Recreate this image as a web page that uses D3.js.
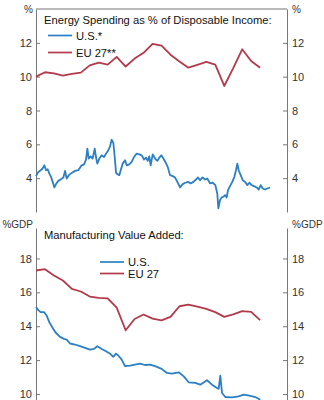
<!DOCTYPE html>
<html>
<head>
<meta charset="utf-8">
<script src="https://cdn.jsdelivr.net/npm/d3@7"></script>
<style>
  body { margin: 0; background: #fff; }
  svg { display: block; font-family: "Liberation Sans", Arial, sans-serif; }
  .axis text { font-size: 11px; fill: #333; }
  .axis path, .axis line { stroke: #777; }
</style>
</head>
<body>
<div id="chart"></div>
<script>
// years of the annual EU series
const euYears = d3.range(2000, 2026);

// energy spending, % of disposable income
const euEnergy = [10.0, 10.26, 10.2, 10.06, 10.16, 10.24, 10.67, 10.83, 10.71, 11.17,
  10.6, 11.07, 11.41, 11.94, 11.84, 11.3, 10.9, 10.53, 10.7, 10.87,
  10.71, 9.45, 10.5, 11.62, 10.93, 10.53];

const usEnergyDates = [2000.0, 2000.26, 2000.52, 2000.74, 2000.93, 2001.12, 2001.3, 2001.49, 2001.67, 2001.86,
  2002.05, 2002.23, 2002.49, 2002.75, 2003.05, 2003.24, 2003.42, 2003.68, 2003.98, 2004.35,
  2004.72, 2005.09, 2005.36, 2005.58, 2005.73, 2005.88, 2006.1, 2006.32, 2006.55, 2006.69,
  2006.84, 2007.07, 2007.33, 2007.59, 2007.81, 2008.07, 2008.26, 2008.44, 2008.63, 2008.78,
  2008.93, 2009.07, 2009.3, 2009.45, 2009.67, 2009.93, 2010.12, 2010.41, 2010.67, 2010.93,
  2011.23, 2011.53, 2011.79, 2012.05, 2012.27, 2012.46, 2012.64, 2012.79, 2013.02, 2013.28,
  2013.54, 2013.76, 2013.98, 2014.21, 2014.43, 2014.69, 2014.95, 2015.25, 2015.51, 2015.77,
  2016.07, 2016.36, 2016.66, 2016.96, 2017.26, 2017.55, 2017.85, 2018.07, 2018.3, 2018.59,
  2018.85, 2019.11, 2019.41, 2019.71, 2020.01, 2020.23, 2020.34, 2020.53, 2020.71, 2020.9,
  2021.09, 2021.27, 2021.42, 2021.64, 2021.9, 2022.13, 2022.31, 2022.46, 2022.61, 2022.83,
  2023.06, 2023.32, 2023.58, 2023.8, 2024.06, 2024.32, 2024.62, 2024.84, 2025.07, 2025.29,
  2025.55, 2025.81, 2026.11];
const usEnergy = [4.12, 4.37, 4.47, 4.57, 4.76, 4.47, 4.53, 4.27, 4.08, 3.78,
  3.45, 3.65, 3.84, 3.92, 4.04, 4.43, 3.98, 4.18, 4.31, 4.43,
  4.47, 4.76, 4.82, 5.1, 5.75, 5.16, 5.29, 5.16, 5.75, 5.25,
  4.86, 5.16, 5.35, 5.25, 5.45, 5.65, 5.88, 6.27, 6.08, 5.25,
  4.31, 4.24, 4.18, 4.47, 4.86, 5.06, 4.76, 4.82, 4.96, 5.25,
  5.45, 5.41, 5.35, 5.1, 5.22, 5.02, 5.29, 4.76, 5.41, 5.16,
  5.02, 5.22, 5.35, 5.16, 4.96, 4.67, 4.18, 4.12, 4.04, 3.78,
  3.45, 3.65, 3.73, 3.78, 3.69, 3.78, 3.92, 4.04, 3.88, 4.04,
  3.92, 3.98, 3.69, 3.73, 3.59, 3.06, 2.22, 2.71, 2.86, 2.9,
  3.0, 2.86, 3.29, 3.53, 3.78, 4.08, 4.47, 4.86, 4.47, 4.18,
  3.88, 3.78, 3.59, 3.73, 3.59, 3.53, 3.45, 3.33, 3.59, 3.39,
  3.33, 3.39, 3.45];

// manufacturing value added, % of GDP
const euManuf = [17.29, 17.37, 17.0, 16.7, 16.2, 16.05, 15.75, 15.67, 15.65, 15.1,
  13.76, 14.43, 14.69, 14.45, 14.35, 14.55, 15.18, 15.28, 15.16, 15.02,
  14.83, 14.55, 14.7, 14.89, 14.85, 14.36];

const usManufDates = [2000.0, 2000.26, 2000.52, 2000.89, 2001.19, 2001.48, 2001.86, 2002.23, 2002.68, 2003.12,
  2003.42, 2003.79, 2004.35, 2004.91, 2005.47, 2006.02, 2006.47, 2006.84, 2007.33, 2007.81,
  2008.26, 2008.62, 2008.92, 2009.18, 2009.56, 2009.93, 2010.49, 2011.04, 2011.6, 2012.16,
  2012.72, 2013.28, 2014.02, 2014.61, 2015.17, 2015.92, 2016.48, 2017.03, 2017.77, 2018.33,
  2019.08, 2019.63, 2020.19, 2020.38, 2020.56, 2020.75, 2021.12, 2021.87, 2022.61, 2023.17,
  2023.8, 2024.46, 2025.02];
const usManuf = [15.14, 14.95, 14.83, 14.83, 14.63, 14.24, 13.9, 13.6, 13.37, 13.25,
  13.21, 12.98, 12.92, 12.82, 12.72, 12.62, 12.66, 12.82, 12.66, 12.52,
  12.38, 12.19, 12.38, 12.27, 12.03, 11.64, 11.67, 11.73, 11.79, 11.71,
  11.73, 11.64, 11.48, 11.24, 11.2, 11.28, 11.04, 10.69, 10.65, 10.55,
  10.81, 10.55, 10.35, 10.3, 11.08, 10.06, 9.82, 9.8, 9.86, 9.96,
  9.9, 9.82, 9.66];

const topTicks = [4, 6, 8, 10, 12];
const bottomTicks = [10, 12, 14, 16, 18];

const blue = "#2b7fc4";
const red = "#b33a4a";
const gray = "#777";

const width = 324;
const height = 400;
const marginLeft = 36;
const marginRight = 37;

const svg = d3.select("#chart")
  .append("svg")
  .attr("width", width)
  .attr("height", height);

const x = d3.scaleLinear()
  .domain([2000, 2028])
  .range([marginLeft, width - marginRight]);

// panels: yScale, legend layout, series
function drawPanel(p) {
  const g = svg.append("g");

  const yAxisL = d3.axisLeft(p.y).tickValues(p.ticks).tickSizeInner(-4).tickSizeOuter(0).tickPadding(4);
  const yAxisR = d3.axisRight(p.y).tickValues(p.ticks).tickSizeInner(-4).tickSizeOuter(0).tickPadding(5);

  g.append("g").attr("class", "axis")
    .attr("transform", `translate(${x.range()[0]},0)`)
    .call(yAxisL);
  g.append("g").attr("class", "axis")
    .attr("transform", `translate(${x.range()[1]},0)`)
    .call(yAxisR);

  if (p.topBorder) {
    g.append("line")
      .attr("x1", x.range()[0]).attr("x2", x.range()[1])
      .attr("y1", p.y.range()[1]).attr("y2", p.y.range()[1])
      .attr("stroke", gray);
  }

  // unit labels
  g.append("text")
    .attr("x", x.range()[0] - 3).attr("y", p.unitY)
    .attr("text-anchor", "end")
    .attr("font-size", p.unitSize).attr("fill", "#333")
    .text(p.unit);
  g.append("text")
    .attr("x", x.range()[1] + 5).attr("y", p.unitY)
    .attr("font-size", p.unitSize).attr("fill", "#333")
    .text(p.unit);

  const line = d3.line()
    .x((d) => x(d[0]))
    .y((d) => p.y(d[1]));

  p.series.forEach((s) => {
    g.append("path")
      .datum(d3.zip(s.dates, s.values))
      .attr("fill", "none")
      .attr("stroke", s.color)
      .attr("stroke-width", s.width)
      .attr("stroke-linejoin", "round")
      .attr("d", line);
  });

  g.append("text")
    .attr("x", 44).attr("y", p.titleY)
    .attr("font-size", 11.2).attr("fill", "#111")
    .text(p.title);

  p.series.forEach((s, i) => {
    const ly = p.legendY + i * p.legendStep;
    g.append("line")
      .attr("x1", p.legendX).attr("x2", p.legendX + 24)
      .attr("y1", ly).attr("y2", ly)
      .attr("stroke", s.color).attr("stroke-width", 1.7);
    g.append("text")
      .attr("x", p.legendX + 28).attr("y", ly + 4)
      .attr("font-size", 11.2).attr("fill", "#111")
      .text(s.label);
  });
}

drawPanel({
  y: d3.scaleLinear().domain([2, 14]).range([212, 9]),
  ticks: topTicks,
  topBorder: true,
  unit: "%",
  unitY: 13,
  unitSize: 10,
  title: "Energy Spending as % of Disposable Income:",
  titleY: 24,
  legendX: 48,
  legendY: 35.5,
  legendStep: 17,
  series: [
    { label: "U.S.*", color: blue, width: 1.8, dates: usEnergyDates, values: usEnergy },
    { label: "EU 27**", color: red, width: 1.8, dates: euYears, values: euEnergy }
  ]
});

drawPanel({
  y: d3.scaleLinear().domain([9, 19.8]).range([410.9, 228]),
  ticks: bottomTicks,
  topBorder: false,
  unit: "%GDP",
  unitY: 228,
  unitSize: 10,
  title: "Manufacturing Value Added:",
  titleY: 239,
  legendX: 100,
  legendY: 262,
  legendStep: 11.5,
  series: [
    { label: "U.S.", color: blue, width: 1.8, dates: usManufDates, values: usManuf },
    { label: "EU 27", color: red, width: 1.8, dates: euYears, values: euManuf }
  ]
});
</script>
</body>
</html>
